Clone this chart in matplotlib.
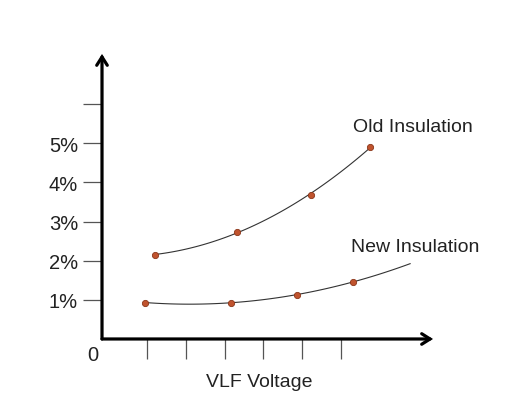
import matplotlib
matplotlib.use('Agg')
import matplotlib.pyplot as plt
import numpy as np

plt.rcParams['font.family'] = ['Liberation Sans', 'DejaVu Sans']

# values (x in tick units, y in %)
old_x = [1.21, 3.32, 5.23, 6.75]
old_y = [2.15, 2.74, 3.69, 4.90]
new_x = [0.95, 3.16, 4.87, 6.31]
new_y = [0.93, 0.93, 1.13, 1.46]
new_curve_end = 7.78

x_ticks = [1, 2, 3, 4, 5, 6]
y_ticks = [1, 2, 3, 4, 5, 6]
y_tick_labels = ['1%', '2%', '3%', '4%', '5%', '']

text_col = '#222222'
dot_col = '#c0532e'

fig = plt.figure(figsize=(5.08, 4.06), dpi=100)
ax = fig.add_axes([0.2008, 0.1626, 0.6516, 0.702])

# trend curves through the points
for xs, ys, x_end in [(old_x, old_y, old_x[-1]), (new_x, new_y, new_curve_end)]:
    coef = np.polyfit(xs, ys, 2)
    xx = np.linspace(xs[0], x_end, 100)
    ax.plot(xx, np.polyval(coef, xx), color='#333333', lw=0.8, zorder=2)
    ax.plot(xs, ys, 'o', ms=4.5, mfc=dot_col, mec='#8a3518', mew=0.6, zorder=3)

ax.set_xlim(-0.16, 8.37)
ax.set_ylim(0, 7.28)

for s in ax.spines.values():
    s.set_visible(False)

# axes with chevron arrow heads
arrow = dict(arrowstyle='->,head_length=0.6,head_width=0.38', lw=2.3, color='black',
             shrinkA=0, shrinkB=0, joinstyle='miter')
ax.annotate('', xy=(1, 0), xytext=(0, 0), xycoords='axes fraction', arrowprops=arrow)
ax.annotate('', xy=(0, 1), xytext=(0, 0), xycoords='axes fraction', arrowprops=arrow)

ax.set_xticks(x_ticks)
ax.set_xticklabels([])
ax.set_yticks(y_ticks)
ax.set_yticklabels(y_tick_labels)
ax.tick_params(axis='x', direction='out', length=14.4, width=0.9, color='#555555')
ax.tick_params(axis='y', direction='out', length=13.7, width=0.9, color='#555555',
               pad=3.5, labelsize=14.5, labelcolor=text_col)

ax.text(-0.25, -0.15, '0', fontsize=14.5, color=text_col, ha='right', va='top',
        transform=ax.transData)
ax.set_xlabel('VLF Voltage', fontsize=14, color=text_col)
ax.xaxis.set_label_coords(0.475, -0.12)

ax.text(6.32, 5.3, 'Old Insulation', fontsize=14, color=text_col, ha='left', va='baseline')
ax.text(6.25, 2.25, 'New Insulation', fontsize=14, color=text_col, ha='left', va='baseline')

fig.savefig('out.png', dpi=100)
plt.close(fig)
